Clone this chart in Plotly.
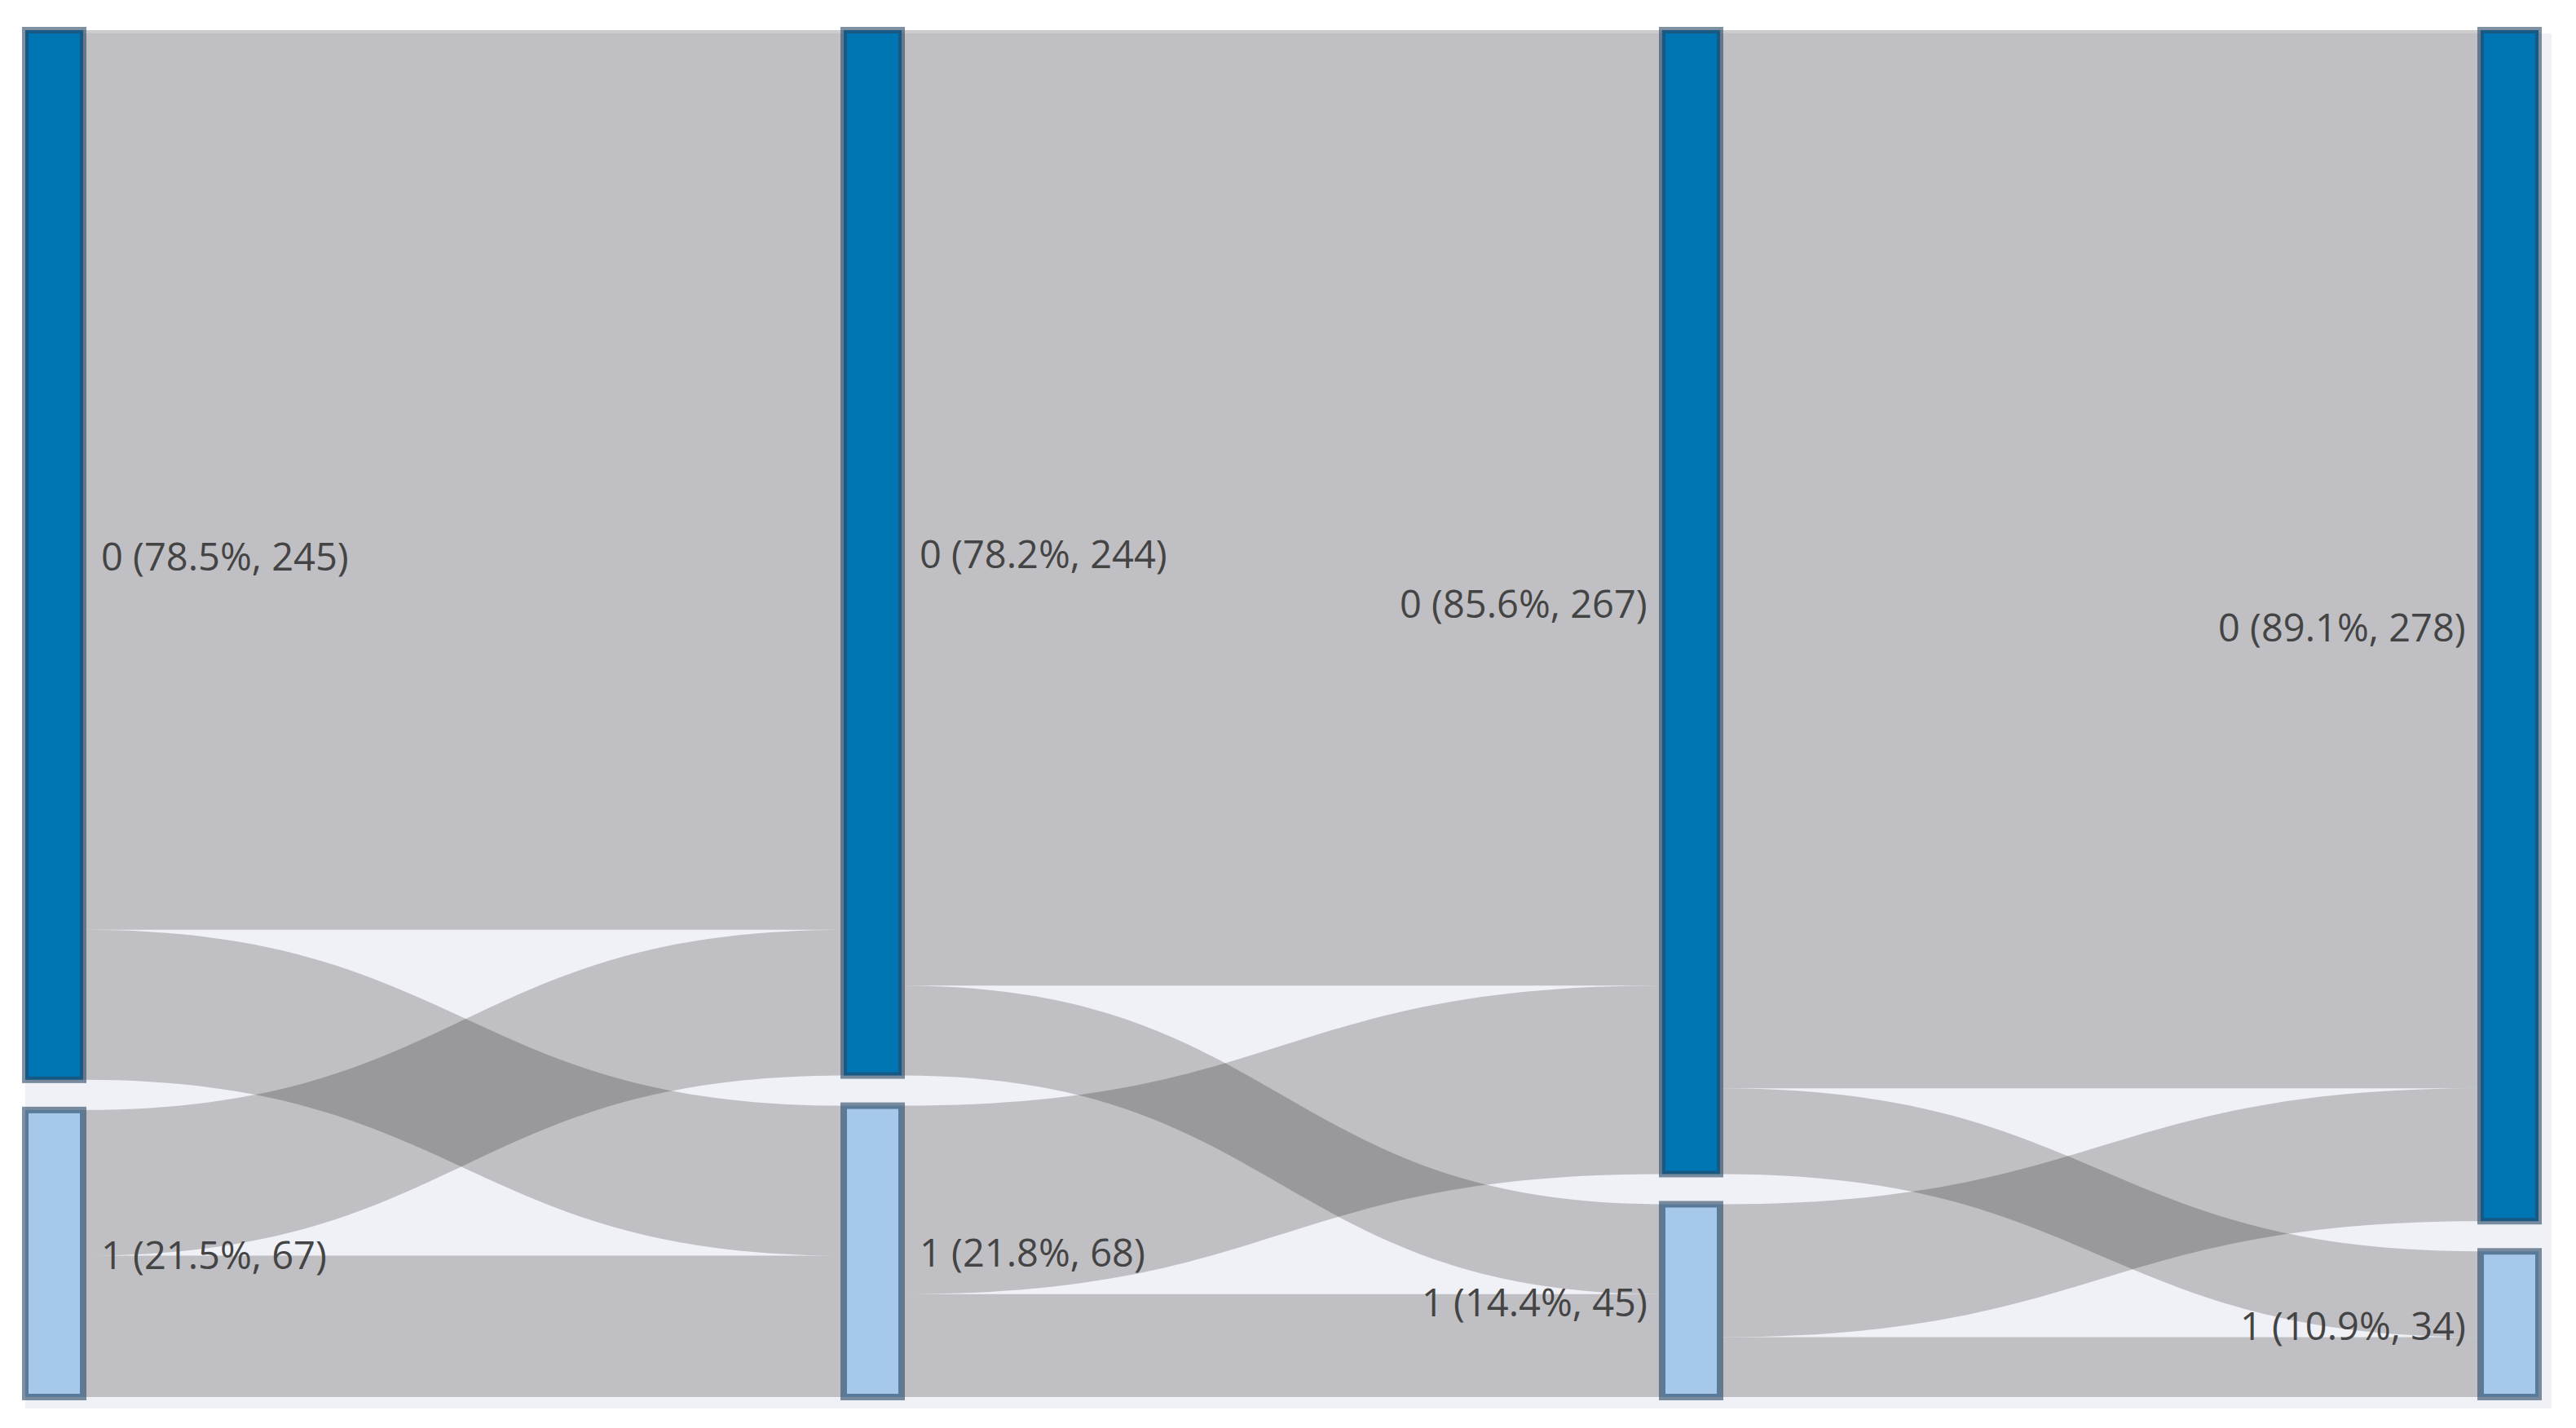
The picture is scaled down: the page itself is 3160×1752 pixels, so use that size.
import plotly.graph_objects as go

# ---- data ----
node_names = ["0", "1", "0", "1", "0", "1", "0", "1"]
node_column = [0, 0, 1, 1, 2, 2, 3, 3]
node_values = [245, 67, 244, 68, 267, 45, 278, 34]
total = 312

link_source = [0, 0, 1, 1, 2, 2, 3, 3, 4, 4, 5, 5]
link_target = [2, 3, 2, 3, 4, 5, 4, 5, 6, 7, 6, 7]
link_value = [210, 35, 34, 33, 223, 21, 44, 24, 247, 20, 31, 14]

labels = [f"{n} ({v / total * 100:.1f}%, {v})" for n, v in zip(node_names, node_values)]
node_colors = ["#0075b4" if n == "0" else "#a6c8ea" for n in node_names]

# ---- geometry / style ----
W, H = 3160, 1752
PAD = 37
THICK = 71
# intended node-area in pixels
NX0, NX1, NY0, NY1 = 31, 3114, 37, 1714
OFF = 8  # plotly translates the sankey node area by this much
ml, mt = NX0 - OFF, NY0 - OFF
mr, mb = W - NX1 + OFF, H - NY1 + OFF
pw, ph = W - ml - mr, H - mt - mb

fig = go.Figure(go.Sankey(
    arrangement="snap",
    node=dict(
        label=[""] * len(labels),
        color=node_colors,
        pad=PAD,
        thickness=THICK,
        line=dict(color="rgba(40,70,100,0.6)", width=8),
        hoverinfo="none",
    ),
    link=dict(
        source=link_source,
        target=link_target,
        value=link_value,
        color="rgba(0,0,0,0.2)",
        hoverinfo="none",
    ),
))

# node labels as annotations (placed from the data values)
ncols = max(node_column) + 1
area_w = NX1 - NX0
area_h = NY1 - NY0
ky = (area_h - PAD) / total
GAP_L, GAP_R = 12, 24
offsets = {}
for i, (lab, col, v) in enumerate(zip(labels, node_column, node_values)):
    y_start = offsets.get(col, 0.0)
    yc = NY0 + y_start + v * ky / 2
    offsets[col] = y_start + v * ky + PAD
    x0 = NX0 + col * (area_w - THICK) / (ncols - 1)
    x1 = x0 + THICK
    if col < ncols / 2:
        xp, anchor = x1 + GAP_L, "left"
    else:
        xp, anchor = x0 - GAP_R, "right"
    fig.add_annotation(
        x=(xp - ml) / pw, y=1 - (yc - mt) / ph, xref="paper", yref="paper",
        text=lab, showarrow=False, xanchor=anchor, yanchor="middle", yshift=7,
        font=dict(family="Open Sans", size=47, color="#444"),
    )

fig.add_shape(
    type="rect", xref="paper", yref="paper", layer="below",
    x0=(23 - ml) / pw, x1=(3122 - ml) / pw,
    y0=1 - (1720 - mt) / ph, y1=1 - (33 - mt) / ph,
    fillcolor="#f0f1f6", line=dict(width=0),
)

fig.update_layout(
    width=W, height=H,
    margin=dict(l=ml, r=mr, t=mt, b=mb),
    paper_bgcolor="white",
    font=dict(family="Open Sans", color="#444"),
)

fig.write_html("out.html")
